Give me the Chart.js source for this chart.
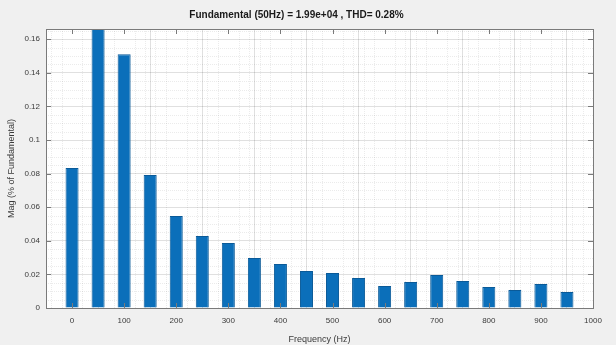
<!DOCTYPE html>
<html><head><meta charset="utf-8">
<script src="https://cdn.jsdelivr.net/npm/chart.js@4/dist/chart.umd.min.js"></script>
<style>html,body{margin:0;padding:0;background:#f0f0f0}#wrap{width:616px;height:345px;position:relative}</style>
</head><body><div id="wrap"><canvas id="c" width="616" height="345"></canvas></div>
<script>
const frequencies = [0,50,100,150,200,250,300,350,400,450,500,550,600,650,700,750,800,850,900,950];
const magnitudes = [0.0833,100,0.151,0.0792,0.0548,0.0429,0.0387,0.0298,0.0262,0.0220,0.0208,0.0179,0.0131,0.0155,0.0196,0.0161,0.0125,0.0107,0.0143,0.0095];
const xTickValues = [0,100,200,300,400,500,600,700,800,900,1000];
const xTickLabels = ['0','100','200','300','400','500','600','700','800','900','1000'];
const yTickValues = [0,0.02,0.04,0.06,0.08,0.1,0.12,0.14,0.16];
const yTickLabels = ['0','0.02','0.04','0.06','0.08','0.1','0.12','0.14','0.16'];
const titleText = 'Fundamental (50Hz) = 1.99e+04 , THD= 0.28%';
const xAxisTitle = 'Frequency (Hz)';
const yAxisTitle = 'Mag (% of Fundamental)';

const FONT = '"Liberation Sans", Arial, sans-serif';
const TXT = '#3a3a3a';

const boxPlugin = {
  id: 'matlabBox',
  beforeDraw(chart) {
    const {ctx, chartArea: a} = chart;
    ctx.save();
    ctx.fillStyle = '#ffffff';
    ctx.fillRect(a.left, a.top, a.right - a.left, a.bottom - a.top);
    ctx.restore();
  },
  beforeDatasetsDraw(chart) {
    const {ctx, chartArea: a, scales: {x, y}} = chart;
    ctx.save();
    ctx.strokeStyle = 'rgba(0,0,0,0.08)';
    ctx.lineWidth = 1;
    ctx.setLineDash([1, 1]);
    for (let v = -40; v < 1000; v += 20) {
      if (v % 100 === 0) continue;
      const px = Math.round(x.getPixelForValue(v)) + 0.5;
      ctx.beginPath(); ctx.moveTo(px, a.top); ctx.lineTo(px, a.bottom); ctx.stroke();
    }
    for (let v = 0.005; v < 0.17; v += 0.005) {
      if (Math.abs(v / 0.02 - Math.round(v / 0.02)) < 1e-6) continue;
      const py = Math.round(y.getPixelForValue(v)) + 0.5;
      if (py < a.top) continue;
      ctx.beginPath(); ctx.moveTo(a.left, py); ctx.lineTo(a.right, py); ctx.stroke();
    }
    ctx.restore();
  },
  afterDatasetsDraw(chart) {
    const {ctx, chartArea: a, scales: {x, y}} = chart;
    ctx.save();
    ctx.strokeStyle = '#7a7a7a';
    ctx.lineWidth = 1;
    ctx.strokeRect(Math.round(a.left) + 0.5, Math.round(a.top) + 0.5, Math.round(a.right - a.left), Math.round(a.bottom - a.top));
    const L = 5;
    xTickValues.forEach(v => {
      const px = Math.round(x.getPixelForValue(v)) + 0.5;
      ctx.beginPath();
      ctx.moveTo(px, a.bottom); ctx.lineTo(px, a.bottom - L);
      ctx.moveTo(px, a.top); ctx.lineTo(px, a.top + L);
      ctx.stroke();
    });
    yTickValues.forEach(v => {
      const py = Math.round(y.getPixelForValue(v)) + 0.5;
      ctx.beginPath();
      ctx.moveTo(a.left, py); ctx.lineTo(a.left + L, py);
      ctx.moveTo(a.right, py); ctx.lineTo(a.right - L, py);
      ctx.stroke();
    });
    ctx.restore();
  }
};

new Chart(document.getElementById('c'), {
  type: 'bar',
  data: {
    datasets: [{
      data: frequencies.map((f, i) => ({x: f, y: magnitudes[i]})),
      backgroundColor: '#0b6fba',
      borderColor: '#0a5a98',
      borderWidth: 1,
      categoryPercentage: 1,
      barPercentage: 0.5
    }]
  },
  options: {
    responsive: false,
    animation: false,
    events: [],
    layout: {padding: {left: 0, right: 23, top: 0, bottom: 0}},
    plugins: {
      legend: {display: false},
      tooltip: {enabled: false},
      title: {
        display: true, text: titleText, color: '#1a1a1a',
        font: {family: FONT, size: 10, weight: 'bold'},
        padding: {top: 9, bottom: 8}
      }
    },
    scales: {
      x: {
        type: 'linear', min: -50, max: 1000, offset: false,
        afterBuildTicks: s => { s.ticks = xTickValues.map(v => ({value: v})); },
        afterFit: s => { s.height = 37; },
        grid: {color: 'rgba(0,0,0,0.12)', drawTicks: false},
        border: {display: false},
        ticks: {color: TXT, font: {family: FONT, size: 8}, padding: 8, maxRotation: 0, autoSkip: false,
          callback: (v, i) => xTickLabels[i]},
        title: {display: true, text: xAxisTitle, color: TXT, font: {family: FONT, size: 9}, padding: {top: 2, bottom: 0}}
      },
      y: {
        min: 0, max: 0.1661,
        afterBuildTicks: s => { s.ticks = yTickValues.map(v => ({value: v})); },
        afterFit: s => { s.width = 46; },
        grid: {color: 'rgba(0,0,0,0.12)', drawTicks: false},
        border: {display: false},
        ticks: {color: TXT, font: {family: FONT, size: 8}, padding: 6,
          callback: (v, i) => yTickLabels[i]},
        title: {display: true, text: yAxisTitle, color: TXT, font: {family: FONT, size: 9}, padding: {top: 6, bottom: 0}}
      }
    }
  },
  plugins: [boxPlugin]
});
</script>
</body></html>
